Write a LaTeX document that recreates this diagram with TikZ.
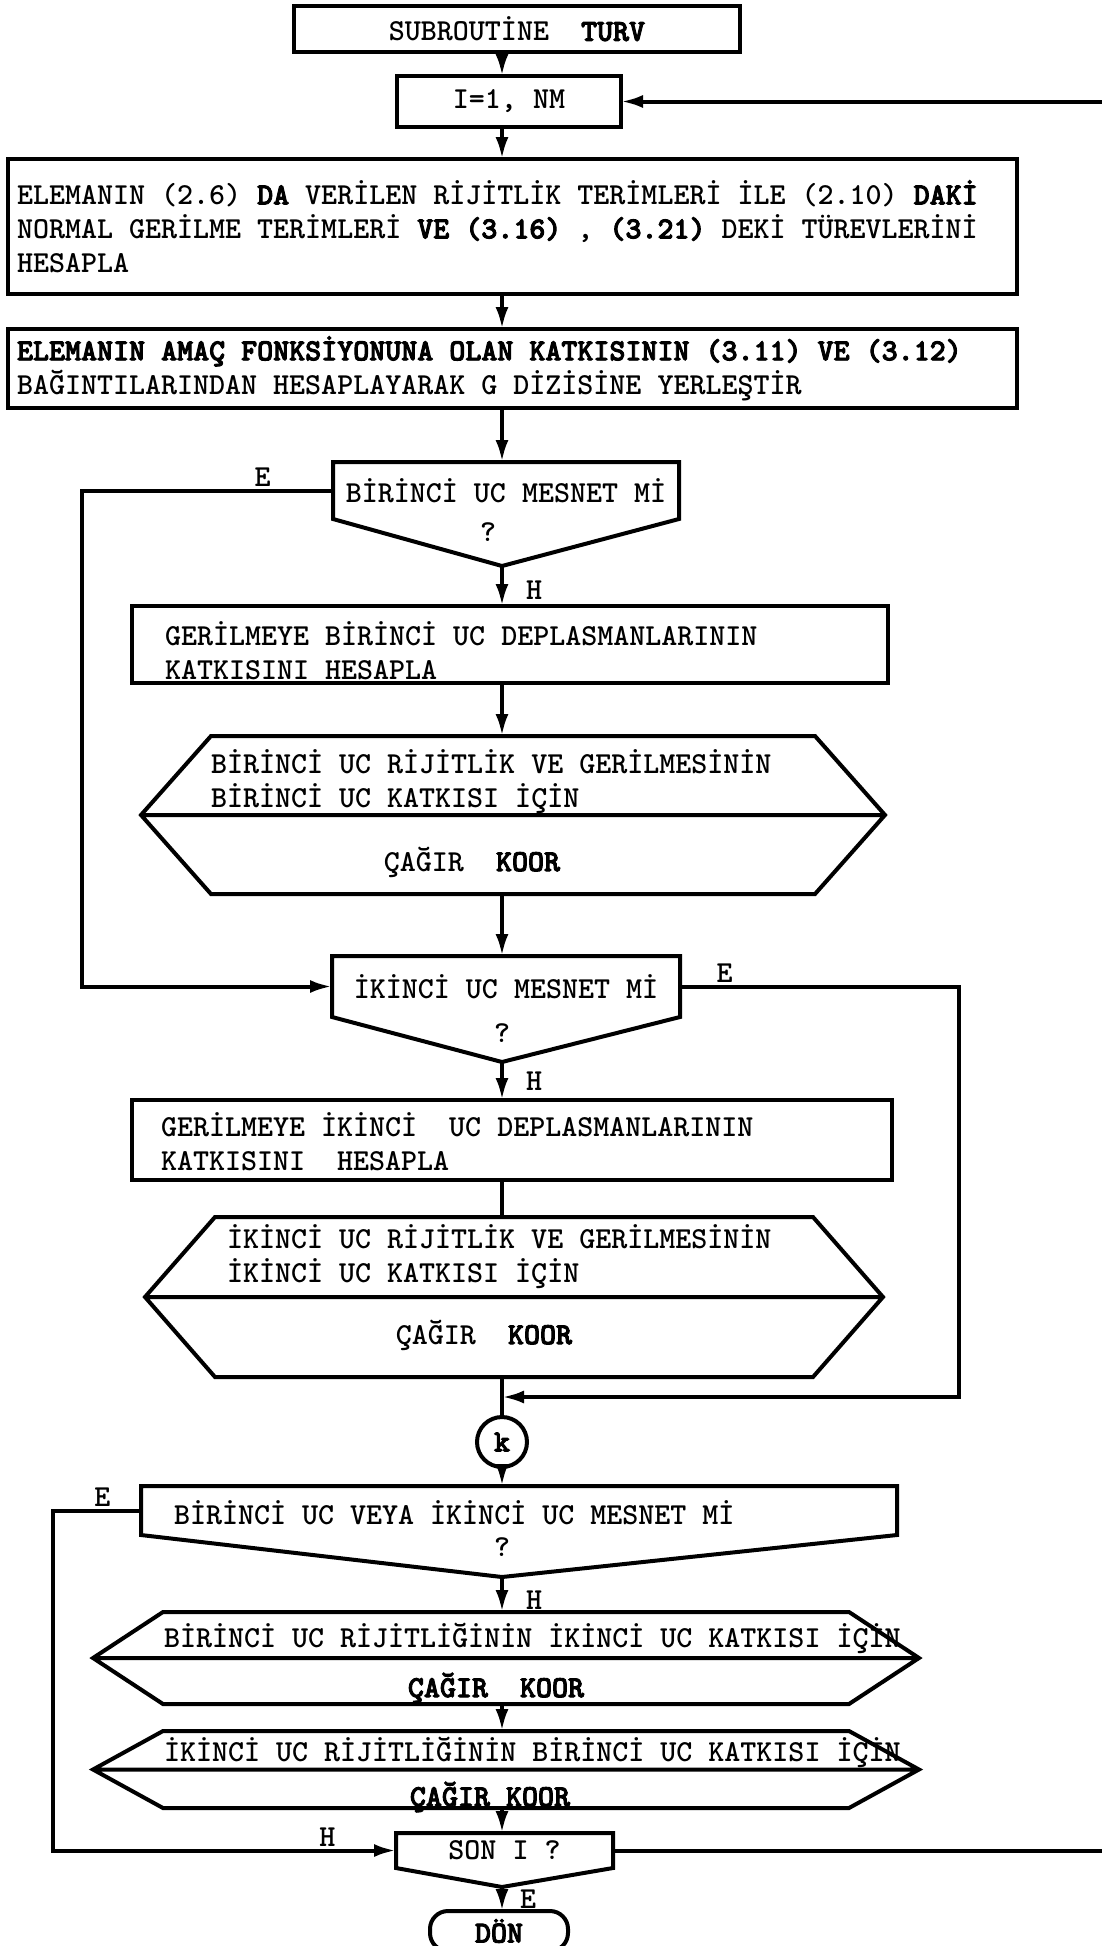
\documentclass[tikz,border=0pt]{standalone}
\usepackage{fontspec}
\setmonofont{lmmonolt10-bold.otf}[BoldFont=lmmonolt10-bold.otf, BoldFeatures={FakeBold=3}]
\usetikzlibrary{arrows.meta,positioning,calc}

% typewriter text
\newcommand{\twfont}{\ttfamily\fontsize{30.5}{34}\selectfont}
% outline of a decision box: rectangle with a point below
\newcommand{\decout}[2]{%
  \draw (#1.south west) -- (#1.north west) -- (#1.north east)
        -- (#1.south east) -- (#2) -- cycle;}
% outline of a call box: hexagon split in two
\newcommand{\hexout}[1]{%
  \draw (#1.west) -- ([xshift=70pt]#1.north west) -- ([xshift=-70pt]#1.north east)
        -- (#1.east) -- ([xshift=-70pt]#1.south east) -- ([xshift=70pt]#1.south west)
        -- cycle (#1.west) -- (#1.east);}

\begin{document}
\begin{tikzpicture}[
      x=1pt, y=1pt, line width=4pt,
      >={Latex[length=22pt,width=13pt]},
      font=\twfont,
      box/.style={draw, inner sep=0pt, outer sep=0pt},
      shp/.style={inner sep=0pt, outer sep=0pt},
      txt/.style={inner sep=0pt, align=left},
      lbl/.style={inner sep=2pt},
    ]
    \useasboundingbox (0,0) rectangle (1102,-1946);
    \fill[white] (0,0) rectangle (1102,-1946);
    \clip (0,0) rectangle (1102,-1946);
    \coordinate (axis) at (502,0);

    % start
    \node[box, minimum width=446pt, minimum height=46pt] (sub) at (517,-29)
      {SUBROUTİNE~~\textbf{TURV}};
    \node[box, minimum width=224pt, minimum height=51pt, below=24pt of sub, xshift=-8pt] (init)
      {I=1, NM};
    \node[box, minimum width=1009pt, minimum height=135pt, below=32pt of init, xshift=3.5pt] (elem) {};
    \node[txt, anchor=west] (elemt) at ([xshift=7pt]elem.west)
      {ELEMANIN (2.6) \textbf{DA} VERİLEN RİJİTLİK TERİMLERİ İLE (2.10) \textbf{DAKİ}\\
       NORMAL GERİLME TERİMLERİ \textbf{VE (3.16)} , \textbf{(3.21)} DEKİ TÜREVLERİNİ\\
       HESAPLA};
    \node[box, minimum width=1009pt, minimum height=79pt, below=35pt of elem] (amac) {};
    \node[txt, anchor=west] (amact) at ([xshift=7pt]amac.west)
      {\textbf{ELEMANIN AMAÇ FONKSİYONUNA OLAN KATKISININ (3.11) VE (3.12)}\\
       BAĞINTILARINDAN HESAPLAYARAK G DİZİSİNE YERLEŞTİR};

    % first end
    \node[shp, minimum width=346pt, minimum height=57pt, below=54pt of amac, xshift=-6.5pt] (d1)
      {BİRİNCİ UC MESNET Mİ};
    \coordinate (d1tip) at ($(d1.south -| axis)+(0,-47)$);
    \node[box, minimum width=756pt, minimum height=77pt, below=87pt of d1, xshift=4pt] (g1) {};
    \node[txt, anchor=west] (g1t) at ([xshift=31pt,yshift=-6pt]g1.west)
      {GERİLMEYE BİRİNCİ UC DEPLASMANLARININ\\KATKISINI HESAPLA};
    \node[shp, minimum width=744pt, minimum height=158pt, below=53pt of g1, xshift=3pt] (h1) {};
    \node[txt, anchor=west] (h1a) at ([xshift=68pt,yshift=-46pt]h1.north west)
      {BİRİNCİ UC RİJİTLİK VE GERİLMESİNİN\\BİRİNCİ UC KATKISI İÇİN};
    \node[txt] (h1b) at ([xshift=-41pt,yshift=32pt]h1.south) {ÇAĞIR~~\textbf{KOOR}};

    % second end
    \node[shp, minimum width=348pt, minimum height=61pt, below=62pt of h1, xshift=-7pt] (d2)
      {İKİNCİ UC MESNET Mİ};
    \coordinate (d2tip) at ($(d2.south -| axis)+(0,-45)$);
    \node[box, minimum width=760pt, minimum height=80pt, below=83pt of d2, xshift=6pt] (g2) {};
    \node[txt, anchor=west] (g2t) at ([xshift=27pt,yshift=-2pt]g2.west)
      {GERİLMEYE İKİNCİ~~UC DEPLASMANLARININ\\KATKISINI~~HESAPLA};
    \node[shp, minimum width=738pt, minimum height=160pt, below=37pt of g2, xshift=2pt] (h2) {};
    \node[txt, anchor=west] (h2a) at ([xshift=80pt,yshift=-40pt]h2.north west)
      {İKİNCİ UC RİJİTLİK VE GERİLMESİNİN\\İKİNCİ UC KATKISI İÇİN};
    \node[txt] (h2b) at ([xshift=-30pt,yshift=42pt]h2.south) {ÇAĞIR~~\textbf{KOOR}};
    \coordinate (jn) at ($(h2.south -| axis)+(0,-20)$);

    % both ends
    \node[box, circle, minimum size=50pt, below=40pt of h2, xshift=-12pt] (k) {\textbf{k}};
    \node[shp, minimum width=756pt, minimum height=49pt, below=19pt of k, xshift=17pt] (d3) {};
    \node[txt, anchor=west] (d3t) at ([xshift=31pt,yshift=-2pt]d3.west)
      {BİRİNCİ UC VEYA İKİNCİ UC MESNET Mİ};
    \coordinate (d3tip) at ($(d3.south -| axis)+(0,-42)$);
    \node[shp, minimum width=826pt, minimum height=92pt, below=77pt of d3, xshift=-13pt] (h3) {};
    \node[txt, anchor=west] (h3a) at ([xshift=69pt,yshift=-26pt]h3.north west)
      {BİRİNCİ UC RİJİTLİĞİNİN İKİNCİ UC KATKISI İÇİN};
    \node[txt] (h3b) at ([xshift=-10pt,yshift=16pt]h3.south) {\textbf{ÇAĞIR~~KOOR}};
    \node[shp, minimum width=826pt, minimum height=77pt, below=27pt of h3] (h4) {};
    \node[txt, anchor=west] (h4a) at ([xshift=69pt,yshift=-21pt]h4.north west)
      {İKİNCİ UC RİJİTLİĞİNİN BİRİNCİ UC KATKISI İÇİN};
    \node[txt] (h4b) at ([xshift=-16pt,yshift=11pt]h4.south) {\textbf{ÇAĞIR KOOR}};

    % loop end
    \node[shp, minimum width=217pt, minimum height=35pt, below=25pt of h4, xshift=-1.5pt] (son)
      {SON I ?};
    \coordinate (sontip) at ($(son.south -| axis)+(0,-19)$);
    \node[box, rounded corners=18pt, minimum width=138pt, minimum height=40pt,
          below=43pt of son, xshift=-5.5pt] (don) {\textbf{DÖN}};

    % outlines
    \decout{d1}{d1tip}
    \decout{d2}{d2tip}
    \decout{d3}{d3tip}
    \decout{son}{sontip}
    \hexout{h1}
    \hexout{h2}
    \hexout{h3}
    \hexout{h4}
    \node (q1) at ($(d1tip)+(-14,34)$) {?};
    \node (q2) at ($(d2tip)+(0,29)$) {?};
    \node (q3) at ($(d3tip)+(0,30)$) {?};

    % flows
    \draw[->] (sub.south -| axis) -- (init.north -| axis);
    \draw[->] (init.south -| axis) -- (elem.north -| axis);
    \draw[->] (elem.south -| axis) -- (amac.north -| axis);
    \draw[->] (amac.south -| axis) -- (d1.north -| axis);
    \draw[->] (d1tip) -- (g1.north -| axis) node[lbl, pos=.6, right=20pt] {H};
    \draw[->] (g1.south -| axis) -- (h1.north -| axis);
    \draw[->] (h1.south -| axis) -- (d2.north -| axis);
    \draw[->] (d2tip) -- (g2.north -| axis) node[lbl, midway, right=20pt] {H};
    \draw (g2.south -| axis) -- (h2.north -| axis);
    \draw (h2.south -| axis) -- (k.north);
    \draw[->] (k.south) -- (d3.north -| axis);
    \draw[->] (d3tip) -- (h3.north -| axis) node[lbl, pos=.65, right=20pt] {H};
    \draw[->] (h3.south -| axis) -- (h4.north -| axis);
    \draw[->] (h4.south -| axis) -- (son.north -| axis);
    \draw[->] (sontip) -- (don.north -| axis) node[lbl, midway, right=14pt] {E};

    % branches
    \draw[->] (d1.west) -- node[lbl, pos=.28, above] {E} ++(-251,0) |- (d2.west);
    \draw[->] (d2.east) -- node[lbl, pos=.16, above] {E} ++(279,0) |- (jn);
    \draw[->] (d3.west) -- node[lbl, pos=.44, above] {E} ++(-88,0)
      |- node[lbl, pos=.9, above] {H} (son.west);
    \draw[->] (son.east) -- ++(650,0) |- (init.east);
  \end{tikzpicture}
\end{document}
